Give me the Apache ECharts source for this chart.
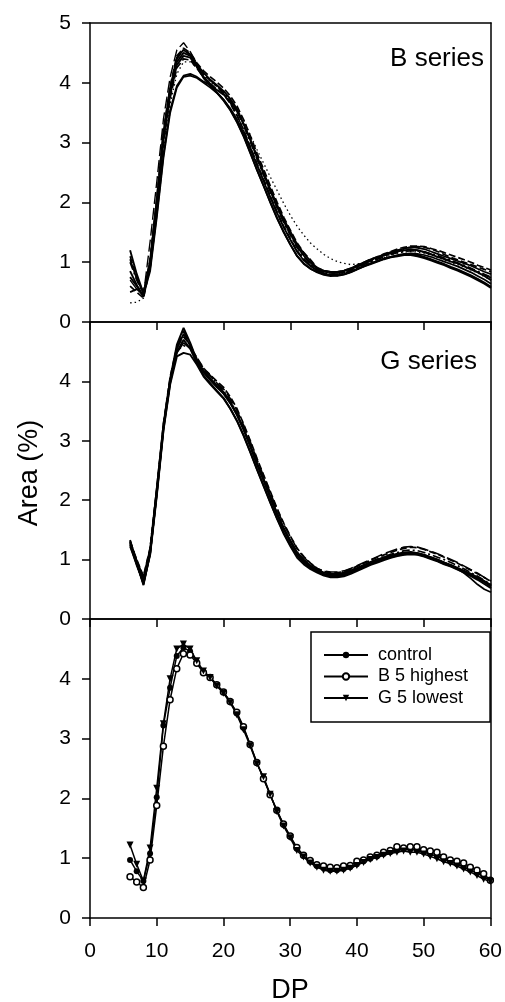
<!DOCTYPE html>
<html>
<head>
<meta charset="utf-8">
<script src="https://cdn.jsdelivr.net/npm/echarts@6/dist/echarts.min.js"></script>
<style>
html,body{margin:0;padding:0;background:#fff;}
#chart{width:505px;height:1002px;}
</style>
</head>
<body>
<div id="chart"></div>
<script>
// ---- data ----
const DP = [6,7,8,9,10,11,12,13,14,15,16,17,18,19,20,21,22,23,24,25,26,27,28,29,30,31,32,33,34,35,36,37,38,39,40,41,42,43,44,45,46,47,48,49,50,51,52,53,54,55,56,57,58,59,60];

// B series (top panel), individual curves
const b1 = [1.20,0.80,0.48,1.00,2.00,3.10,3.85,4.35,4.50,4.45,4.30,4.17,4.05,3.96,3.86,3.73,3.56,3.31,3.04,2.75,2.47,2.19,1.92,1.68,1.47,1.26,1.11,0.99,0.89,0.85,0.83,0.83,0.85,0.89,0.94,0.99,1.04,1.08,1.12,1.15,1.18,1.20,1.21,1.20,1.17,1.13,1.09,1.05,1.01,0.98,0.93,0.88,0.83,0.77,0.70];
const b2 = [0.85,0.62,0.42,0.95,1.95,3.05,3.80,4.30,4.45,4.42,4.27,4.08,3.95,3.83,3.70,3.54,3.34,3.10,2.82,2.54,2.27,2.00,1.74,1.50,1.29,1.10,0.97,0.89,0.83,0.79,0.77,0.78,0.80,0.84,0.89,0.94,0.98,1.02,1.06,1.09,1.11,1.13,1.14,1.12,1.09,1.05,1.01,0.97,0.92,0.88,0.83,0.78,0.72,0.66,0.59];
const b3 = [0.70,0.55,0.45,1.35,2.35,3.40,4.10,4.55,4.67,4.52,4.32,4.15,4.05,3.93,3.82,3.66,3.46,3.20,2.92,2.63,2.36,2.08,1.82,1.58,1.38,1.18,1.05,0.95,0.88,0.84,0.82,0.82,0.84,0.88,0.93,0.98,1.03,1.07,1.11,1.15,1.18,1.21,1.22,1.20,1.18,1.14,1.10,1.06,1.02,0.98,0.94,0.89,0.84,0.79,0.74];
const b4 = [1.05,0.72,0.50,0.90,1.80,2.80,3.55,3.95,4.12,4.15,4.10,4.02,3.96,3.88,3.80,3.68,3.52,3.31,3.05,2.77,2.50,2.22,1.96,1.72,1.51,1.30,1.15,1.02,0.90,0.86,0.84,0.84,0.86,0.90,0.95,1.00,1.05,1.09,1.13,1.17,1.20,1.23,1.25,1.24,1.22,1.18,1.14,1.10,1.06,1.02,0.98,0.94,0.89,0.84,0.80];
const b5 = [0.60,0.50,0.40,0.92,1.90,3.00,3.75,4.25,4.40,4.38,4.24,4.09,3.99,3.89,3.80,3.65,3.45,3.21,2.93,2.65,2.38,2.10,1.84,1.60,1.39,1.19,1.05,0.95,0.86,0.82,0.80,0.81,0.83,0.87,0.92,0.97,1.02,1.07,1.12,1.16,1.20,1.23,1.25,1.26,1.25,1.22,1.18,1.13,1.08,1.04,1.00,0.96,0.92,0.88,0.84];
const b6 = [0.32,0.33,0.40,0.90,1.80,2.90,3.65,4.15,4.35,4.35,4.25,4.12,4.02,3.94,3.85,3.70,3.55,3.37,3.12,2.88,2.65,2.42,2.20,1.98,1.78,1.60,1.45,1.32,1.22,1.13,1.06,1.01,0.98,0.96,0.97,0.99,1.02,1.05,1.08,1.12,1.15,1.17,1.18,1.17,1.15,1.12,1.08,1.04,1.00,0.96,0.92,0.87,0.82,0.76,0.70];
const b7 = [0.50,0.55,0.45,0.85,1.75,2.75,3.50,3.92,4.10,4.12,4.08,4.00,3.92,3.83,3.72,3.57,3.39,3.16,2.90,2.62,2.35,2.08,1.82,1.58,1.37,1.17,1.03,0.93,0.86,0.81,0.78,0.77,0.79,0.83,0.88,0.93,0.98,1.02,1.06,1.09,1.12,1.14,1.15,1.14,1.12,1.09,1.05,1.01,0.97,0.93,0.88,0.83,0.77,0.71,0.64];
const b8 = [1.00,0.70,0.46,0.98,1.98,3.12,3.88,4.40,4.55,4.48,4.30,4.14,4.04,3.94,3.84,3.70,3.52,3.28,3.01,2.72,2.45,2.17,1.91,1.66,1.45,1.24,1.09,0.97,0.86,0.82,0.80,0.80,0.82,0.86,0.91,0.96,1.01,1.05,1.09,1.13,1.16,1.18,1.19,1.19,1.17,1.14,1.11,1.07,1.03,0.99,0.95,0.90,0.85,0.80,0.75];
const b9 = [0.75,0.60,0.44,1.02,2.05,3.18,3.92,4.42,4.55,4.47,4.29,4.10,3.98,3.84,3.71,3.55,3.35,3.11,2.83,2.54,2.27,1.99,1.73,1.50,1.29,1.10,0.98,0.89,0.84,0.80,0.78,0.78,0.80,0.84,0.89,0.93,0.97,1.01,1.05,1.08,1.10,1.12,1.12,1.10,1.07,1.03,0.99,0.95,0.90,0.86,0.81,0.76,0.70,0.64,0.57];
const b10 = [1.10,0.75,0.47,1.05,2.08,3.20,3.95,4.45,4.58,4.50,4.33,4.20,4.10,4.01,3.91,3.78,3.61,3.38,3.11,2.82,2.55,2.27,2.00,1.75,1.53,1.32,1.16,1.04,0.91,0.86,0.84,0.84,0.86,0.90,0.95,1.00,1.05,1.09,1.14,1.18,1.22,1.25,1.27,1.27,1.26,1.23,1.20,1.16,1.12,1.08,1.04,1.00,0.95,0.91,0.87];

// G series (middle panel), individual curves
const g1 = [1.32,0.95,0.57,1.10,2.15,3.25,4.05,4.62,4.90,4.65,4.35,4.18,4.05,3.93,3.82,3.65,3.45,3.20,2.92,2.62,2.35,2.06,1.78,1.53,1.32,1.12,1.00,0.90,0.83,0.78,0.76,0.76,0.78,0.82,0.86,0.91,0.96,1.00,1.04,1.07,1.10,1.12,1.13,1.11,1.08,1.04,1.00,0.95,0.91,0.86,0.81,0.76,0.70,0.64,0.57];
const g2 = [1.28,0.98,0.70,1.18,2.20,3.28,4.02,4.55,4.80,4.60,4.32,4.15,4.02,3.90,3.79,3.63,3.43,3.18,2.90,2.60,2.33,2.04,1.76,1.51,1.30,1.10,0.98,0.88,0.81,0.76,0.74,0.74,0.76,0.80,0.84,0.89,0.93,0.97,1.01,1.04,1.07,1.09,1.10,1.09,1.06,1.02,0.98,0.93,0.89,0.84,0.79,0.74,0.68,0.62,0.55];
const g3 = [1.22,0.92,0.62,1.12,2.12,3.20,3.98,4.50,4.70,4.55,4.30,4.10,3.97,3.84,3.72,3.54,3.33,3.08,2.80,2.51,2.23,1.95,1.68,1.43,1.22,1.03,0.92,0.84,0.78,0.73,0.70,0.70,0.72,0.76,0.81,0.86,0.91,0.95,0.99,1.03,1.06,1.08,1.09,1.08,1.05,1.01,0.97,0.92,0.88,0.83,0.78,0.72,0.66,0.59,0.52];
const g4 = [1.30,1.00,0.72,1.20,2.22,3.30,4.08,4.58,4.75,4.62,4.38,4.22,4.11,4.00,3.90,3.74,3.54,3.28,3.00,2.70,2.42,2.14,1.86,1.61,1.39,1.19,1.05,0.94,0.85,0.80,0.78,0.78,0.80,0.84,0.89,0.94,0.99,1.04,1.08,1.12,1.16,1.19,1.21,1.20,1.17,1.13,1.09,1.04,0.99,0.94,0.88,0.82,0.76,0.70,0.63];
const g5 = [1.25,0.90,0.60,1.08,2.08,3.18,3.95,4.42,4.48,4.45,4.28,4.08,3.95,3.83,3.71,3.54,3.34,3.09,2.81,2.52,2.24,1.96,1.69,1.45,1.24,1.06,0.95,0.86,0.80,0.75,0.72,0.72,0.74,0.78,0.83,0.88,0.93,0.97,1.01,1.05,1.08,1.10,1.11,1.10,1.07,1.03,0.99,0.95,0.90,0.85,0.80,0.75,0.69,0.63,0.56];
const g6 = [1.33,0.97,0.65,1.15,2.18,3.25,4.00,4.52,4.60,4.58,4.40,4.22,4.10,3.96,3.84,3.67,3.46,3.20,2.91,2.61,2.33,2.05,1.77,1.52,1.31,1.12,0.99,0.89,0.82,0.77,0.75,0.75,0.77,0.81,0.86,0.91,0.96,1.01,1.05,1.09,1.12,1.15,1.16,1.15,1.12,1.08,1.04,1.00,0.95,0.90,0.84,0.78,0.72,0.65,0.58];
const g7 = [1.27,0.93,0.58,1.10,2.10,3.22,4.00,4.48,4.65,4.55,4.33,4.15,4.03,3.91,3.80,3.64,3.44,3.19,2.91,2.61,2.33,2.04,1.76,1.51,1.30,1.10,0.97,0.87,0.80,0.75,0.73,0.73,0.75,0.79,0.84,0.89,0.94,0.98,1.02,1.06,1.09,1.11,1.12,1.11,1.08,1.04,1.00,0.95,0.90,0.84,0.77,0.68,0.58,0.50,0.45];
const g8 = [1.30,0.96,0.68,1.15,2.16,3.24,4.03,4.56,4.85,4.62,4.36,4.20,4.09,3.97,3.87,3.71,3.51,3.26,2.98,2.68,2.40,2.12,1.84,1.59,1.38,1.18,1.04,0.93,0.85,0.81,0.79,0.79,0.81,0.85,0.90,0.95,1.00,1.05,1.10,1.14,1.18,1.21,1.22,1.21,1.18,1.14,1.10,1.05,1.00,0.95,0.89,0.83,0.77,0.70,0.64];

// bottom panel
const control   = [0.97,0.78,0.62,1.08,2.02,3.22,3.85,4.38,4.52,4.46,4.28,4.12,4.03,3.90,3.78,3.62,3.42,3.18,2.90,2.60,2.34,2.06,1.80,1.56,1.36,1.16,1.04,0.94,0.87,0.83,0.80,0.80,0.82,0.85,0.90,0.95,0.99,1.03,1.07,1.10,1.13,1.15,1.15,1.13,1.10,1.07,1.03,0.98,0.94,0.90,0.85,0.80,0.75,0.69,0.63];
const bHighest  = [0.69,0.60,0.51,0.97,1.88,2.87,3.65,4.17,4.42,4.40,4.26,4.10,4.02,3.90,3.78,3.62,3.44,3.20,2.90,2.60,2.33,2.06,1.80,1.57,1.37,1.18,1.05,0.96,0.89,0.87,0.85,0.84,0.87,0.88,0.95,0.97,1.02,1.05,1.10,1.13,1.19,1.17,1.19,1.19,1.14,1.12,1.10,1.02,0.97,0.95,0.92,0.85,0.80,0.74,0.63];
const gLowest   = [1.22,0.90,0.62,1.17,2.17,3.25,4.00,4.50,4.58,4.50,4.30,4.13,4.02,3.88,3.76,3.60,3.40,3.15,2.88,2.58,2.36,2.07,1.78,1.54,1.34,1.13,1.02,0.92,0.85,0.80,0.78,0.78,0.80,0.83,0.88,0.93,0.98,1.01,1.05,1.08,1.10,1.12,1.10,1.10,1.07,1.03,0.99,0.94,0.91,0.87,0.82,0.77,0.71,0.65,0.61];

const legendNames = ['control', 'B 5 highest', 'G 5 lowest'];
const panelTitles = ['B series', 'G series'];
const xTicks = [0, 60, 10];   // min, max, interval
const yTicks = [0, 5, 1];

// ---- chart ----
const FONT = 'Liberation Sans, Arial, sans-serif';
const pair = arr => DP.map((d, i) => [d, arr[i]]);

const grids = [
  {left: 90, right: 14, top: 23, height: 299},
  {left: 90, right: 14, top: 322, height: 297},
  {left: 90, right: 14, top: 619, height: 299}
];

const xAxes = [];
const yAxes = [];
for (let g = 0; g < 3; g++) {
  xAxes.push({
    gridIndex: g, type: 'value', min: xTicks[0], max: xTicks[1], interval: xTicks[2],
    position: 'bottom',
    axisLine: {show: true, onZero: false, lineStyle: {color: '#000', width: 1.5}},
    axisTick: {show: g === 2, inside: false, length: 8, lineStyle: {color: '#000', width: 1.5}},
    axisLabel: {show: g === 2, color: '#000', fontSize: 21, fontFamily: FONT, margin: 23},
    splitLine: {show: false}
  });
  xAxes.push({
    gridIndex: g, type: 'value', min: xTicks[0], max: xTicks[1], interval: xTicks[2],
    position: 'top',
    axisLine: {show: true, onZero: false, lineStyle: {color: '#000', width: 1.5}},
    axisTick: {show: g > 0, inside: true, length: 8, lineStyle: {color: '#000', width: 1.5}},
    axisLabel: {show: false},
    splitLine: {show: false}
  });
  yAxes.push({
    gridIndex: g, type: 'value', min: yTicks[0], max: yTicks[1], interval: yTicks[2],
    position: 'left',
    axisLine: {show: true, onZero: false, lineStyle: {color: '#000', width: 1.5}},
    axisTick: {show: true, inside: false, length: 8, lineStyle: {color: '#000', width: 1.5}},
    axisLabel: {
      color: '#000', fontSize: 21, fontFamily: FONT, margin: 19,
      formatter: v => (g > 0 && v === 5) ? '' : String(v)
    },
    splitLine: {show: false}
  });
  yAxes.push({
    gridIndex: g, type: 'value', min: yTicks[0], max: yTicks[1], interval: yTicks[2],
    position: 'right',
    axisLine: {show: true, onZero: false, lineStyle: {color: '#000', width: 1.5}},
    axisTick: {show: false}, axisLabel: {show: false}, splitLine: {show: false}
  });
}

const series = [];
const bandStyles = {
  solid: 'solid', dash: [7, 3], longdash: [12, 4], dot: [1.5, 3], dashdot: [8, 3, 2, 3]
};
function band(arr, grid, type, width) {
  series.push({
    type: 'line', xAxisIndex: grid * 2, yAxisIndex: grid * 2,
    data: pair(arr), showSymbol: false, symbol: 'none', silent: true,
    lineStyle: {color: '#000', width: width || 1.6, type: bandStyles[type]}
  });
}
band(b1, 0, 'solid', 1.9);
band(b2, 0, 'solid', 1.9);
band(b3, 0, 'longdash', 1.4);
band(b4, 0, 'solid', 1.7);
band(b5, 0, 'dash', 1.7);
band(b6, 0, 'dot', 1.3);
band(b7, 0, 'solid', 1.7);
band(b8, 0, 'dashdot', 1.7);
band(b9, 0, 'solid', 1.9);
band(b10, 0, 'dash', 1.7);

band(g1, 1, 'solid', 1.9);
band(g2, 1, 'solid', 1.9);
band(g3, 1, 'solid', 1.9);
band(g4, 1, 'dash', 1.7);
band(g5, 1, 'solid', 1.9);
band(g6, 1, 'dashdot', 1.7);
band(g7, 1, 'solid', 1.7);
band(g8, 1, 'longdash', 1.6);

series.push({
  name: legendNames[0], type: 'line', xAxisIndex: 4, yAxisIndex: 4, data: pair(control),
  symbol: 'circle', symbolSize: 6, showAllSymbol: true,
  lineStyle: {color: '#000', width: 1.5}, itemStyle: {color: '#000', borderColor: '#000', borderWidth: 0}
});
series.push({
  name: legendNames[1], type: 'line', xAxisIndex: 4, yAxisIndex: 4, data: pair(bHighest),
  symbol: 'circle', symbolSize: 6, showAllSymbol: true,
  lineStyle: {color: '#000', width: 1.5}, itemStyle: {color: '#fff', borderColor: '#000', borderWidth: 1.5}
});
series.push({
  name: legendNames[2], type: 'line', xAxisIndex: 4, yAxisIndex: 4, data: pair(gLowest),
  symbol: 'triangle', symbolRotate: 180, symbolSize: 7, showAllSymbol: true,
  lineStyle: {color: '#000', width: 1.5}, itemStyle: {color: '#000', borderWidth: 0}
});

const chart = echarts.init(document.getElementById('chart'), null, {renderer: 'canvas'});
chart.setOption({
  animation: false,
  backgroundColor: '#fff',
  grid: grids,
  xAxis: xAxes,
  yAxis: yAxes,
  legend: {
    data: legendNames, orient: 'vertical', left: 311, top: 632,
    itemWidth: 44, itemHeight: 8, itemGap: 3.5,
    padding: [14, 22, 15, 12],
    borderColor: '#000', borderWidth: 1.5, backgroundColor: '#fff',
    textStyle: {color: '#000', fontSize: 18, fontFamily: FONT, padding: [0, 0, 0, 5]},
    selectedMode: false
  },
  graphic: [
    {type: 'text', x: 484, y: 59, style: {text: panelTitles[0], font: '26px ' + FONT, fill: '#000', textAlign: 'right', textVerticalAlign: 'middle'}},
    {type: 'text', x: 477, y: 362, style: {text: panelTitles[1], font: '26px ' + FONT, fill: '#000', textAlign: 'right', textVerticalAlign: 'middle'}},
    {type: 'text', x: 30, y: 473, rotation: Math.PI / 2, style: {text: 'Area (%)', font: '27px ' + FONT, fill: '#000', textAlign: 'center', textVerticalAlign: 'middle'}},
    {type: 'text', x: 290, y: 991, style: {text: 'DP', font: '27px ' + FONT, fill: '#000', textAlign: 'center', textVerticalAlign: 'middle'}}
  ],
  series: series
});
</script>
</body>
</html>
